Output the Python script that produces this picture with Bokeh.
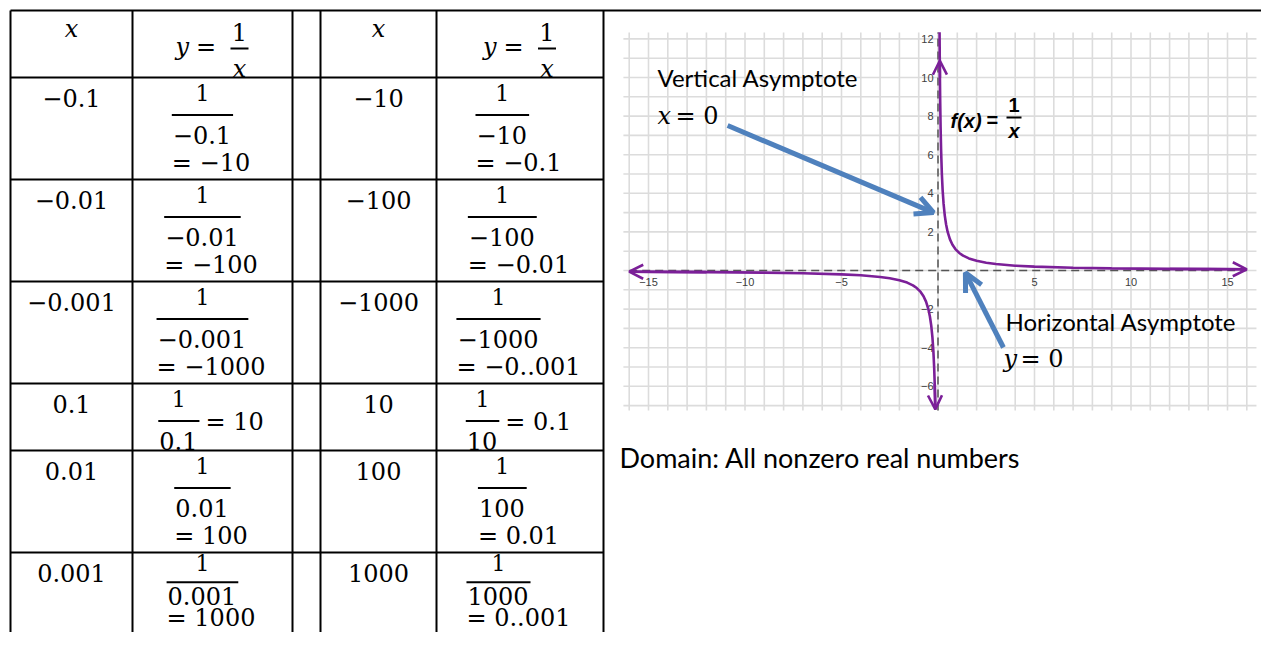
from bokeh.plotting import figure
from bokeh.models import Range1d, Arrow, OpenHead
from bokeh.core.properties import value
from bokeh.embed import file_html
from bokeh.resources import INLINE

# ---------------- data ----------------
table_left_x = ["−0.1", "−0.01", "−0.001", "0.1", "0.01", "0.001"]
table_left_y = ["−10", "−100", "−1000", "10", "100", "1000"]
table_right_x = ["−10", "−100", "−1000", "10", "100", "1000"]
table_right_y = ["−0.1", "−0.01", "−0..001", "0.1", "0.01", "0..001"]
inline_rows = [False, False, False, True, False, False]

curve_neg_x = [-16, -12, -9, -7, -5, -4, -3, -2.5, -2, -1.6, -1.3, -1.1, -0.9, -0.75,
               -0.62, -0.5, -0.42, -0.35, -0.29, -0.24, -0.2, -0.17, -0.139]
curve_neg_y = [-0.0625, -0.0833, -0.111, -0.143, -0.2, -0.25, -0.333, -0.4, -0.5, -0.625,
               -0.769, -0.909, -1.111, -1.333, -1.613, -2.0, -2.381, -2.857, -3.448,
               -4.167, -5.0, -5.882, -7.194]
curve_pos_x = [0.081, 0.09, 0.1, 0.115, 0.135, 0.16, 0.2, 0.24, 0.29, 0.35, 0.42, 0.5,
               0.62, 0.75, 0.9, 1.1, 1.3, 1.6, 2, 2.5, 3, 4, 5, 7, 9, 12, 16]
curve_pos_y = [12.35, 11.11, 10.0, 8.696, 7.407, 6.25, 5.0, 4.167, 3.448, 2.857, 2.381,
               2.0, 1.613, 1.333, 1.111, 0.909, 0.769, 0.625, 0.5, 0.4, 0.333, 0.25, 0.2,
               0.143, 0.111, 0.0833, 0.0625]

x_tick_values = [-15, -10, -5, 5, 10, 15]
x_tick_labels = ["−15", "−10", "−5", "5", "10", "15"]
y_tick_values = [12, 10, 8, 6, 4, 2, -2, -4, -6]
y_tick_labels = ["12", "10", "8", "6", "4", "2", "−2", "−4", "−6"]

grid_x = list(range(-16, 17))
grid_y = list(range(-7, 13))

# annotation arrows (graph units): vertical asymptote pointer, horizontal asymptote pointer
pointer_x0 = [-10.9, 3.39]
pointer_y0 = [7.51, -3.99]
pointer_x1 = [-0.23, 1.42]
pointer_y1 = [3.0, -0.12]

# ---------------- layout (pixels) ----------------
W, H = 1261, 632
OX, OY = 0, 0
col_edges = [10, 132, 292, 320, 436, 603]
row_edges = [10, 77, 179, 281, 383, 450, 552]
row_fit = [1, 1, 1, 1, 1, 0.79]   # last row squeezed so its text stays inside the canvas
TABLE_BOTTOM = 660
TOP_RULE_END = 1290

G_X0, G_Y0, G_UNIT = 937.5, 270.0, 19.3  # graph origin & unit in px

PURPLE = "#7b1f98"
BLUE = "#4f81bd"
GRIDC = "#dcdcdc"

SERIF = "DejaVu Serif"
FS = 24
NUM_FS = 22
MID = 0.37  # baseline -> middle offset (em)

p = figure(width=W, height=H, x_range=Range1d(OX, OX + W), y_range=Range1d(OY + H, OY),
           output_backend="svg", toolbar_location=None, min_border=0,
           x_axis_type=None, y_axis_type=None, outline_line_color=None,
           background_fill_color="white", border_fill_color="white")
p.extra_x_ranges = {"gx": Range1d((OX - G_X0) / G_UNIT, (OX + W - G_X0) / G_UNIT)}
p.extra_y_ranges = {"gy": Range1d((G_Y0 - (OY + H)) / G_UNIT, (G_Y0 - OY) / G_UNIT)}
G = dict(x_range_name="gx", y_range_name="gy")


def add_text(xs, bs, texts, size, align="left", style="normal", font=SERIF, color="black"):
    """Place texts by their baseline (pixel coordinates)."""
    ys = [b - MID * size for b in bs]
    p.text(x=xs, y=ys, text=texts, text_font=value(font), text_font_size=value(f"{size}px"),
           text_align=align, text_baseline="middle", text_font_style=style,
           text_color=color)


ADV = {"−": 0.838, ".": 0.318, " ": 0.318, "=": 0.838}


def tw(s, size=FS):
    return sum(ADV.get(c, 0.636) for c in s) * size


# ---------------- graph ----------------
p.segment(x0=grid_x, y0=[-7.25] * len(grid_x), x1=grid_x, y1=[12.33] * len(grid_x),
          line_color=GRIDC, line_width=1.6, **G)
p.segment(x0=[-16.3] * len(grid_y), y0=grid_y, x1=[16.5] * len(grid_y), y1=grid_y,
          line_color=GRIDC, line_width=1.6, **G)
# dashed axes
p.segment(x0=[-16, 0], y0=[0, -7.25], x1=[16, 0], y1=[0, 12.33],
          line_color="#555555", line_width=1.5, line_dash="8 5", **G)
# tick labels
p.text(x=x_tick_values, y=[-0.62] * len(x_tick_values), text=x_tick_labels,
       text_font=value("Liberation Sans"), text_font_size=value("11px"), text_align="center",
       text_baseline="middle", text_color="#404040", **G)
p.text(x=[-0.23] * len(y_tick_values), y=y_tick_values, text=y_tick_labels,
       text_font=value("Liberation Sans"), text_font_size=value("11px"), text_align="right",
       text_baseline="middle", text_color="#404040", **G)
# curve
p.line(curve_neg_x, curve_neg_y, line_color=PURPLE, line_width=2.6, **G)
p.line(curve_pos_x, curve_pos_y, line_color=PURPLE, line_width=2.6, **G)
for (xa, ya, xb, yb) in [
    (curve_neg_x[1], curve_neg_y[1], curve_neg_x[0], curve_neg_y[0]),
    (curve_neg_x[-2], curve_neg_y[-2], curve_neg_x[-1], curve_neg_y[-1]),
    (curve_pos_x[-2], curve_pos_y[-2], curve_pos_x[-1], curve_pos_y[-1]),
    (curve_pos_x[2], curve_pos_y[2], 0.092, 10.87),
]:
    p.add_layout(Arrow(end=OpenHead(size=14, line_color=PURPLE, line_width=2.6),
                       x_start=xa, y_start=ya, x_end=xb, y_end=yb,
                       line_color=PURPLE, line_width=2.6, **G))
# asymptote pointers
for i in range(len(pointer_x0)):
    p.add_layout(Arrow(end=OpenHead(size=18, line_color=BLUE, line_width=5),
                       x_start=pointer_x0[i], y_start=pointer_y0[i],
                       x_end=pointer_x1[i], y_end=pointer_y1[i],
                       line_color=BLUE, line_width=5, **G))

# labels
add_text([657], [86], ["Vertical Asymptote"], 24, font="Lato")
add_text([657], [124], ["x"], FS, style="italic")
add_text([675], [124], ["= 0"], FS)
add_text([1005], [330], ["Horizontal Asymptote"], 24, font="Lato")
add_text([1003], [367], ["y"], FS, style="italic")
add_text([1020], [367], ["= 0"], FS)
add_text([619], [467], ["Domain: All nonzero real numbers"], 27, font="Lato")
# f(x) = 1/x
add_text([950], [128], ["f(x)"], 20, style="bold italic", font="Liberation Sans")
add_text([986], [127], ["="], 20, style="bold", font="Liberation Sans")
add_text([1013.5], [112], ["1"], 20, align="center", style="bold", font="Liberation Sans")
add_text([1013.5], [138], ["x"], 20, align="center", style="bold italic", font="Liberation Sans")
p.segment(x0=[1006], y0=[117], x1=[1021], y1=[117], line_color="black", line_width=2)

# ---------------- table ----------------
NUM_B, BAR_Y, DEN_B, EQ_B, INLINE_EQ_B, XVAL_B = 24, 37.5, 66, 94, 47, 29.5
bars_x0, bars_x1, bars_y = [], [], []
for (xcol, ycol, xs, ys) in [(0, 1, table_left_x, table_left_y),
                             (3, 4, table_right_x, table_right_y)]:
    xc = (col_edges[xcol] + col_edges[xcol + 1]) / 2
    yc = (col_edges[ycol] + col_edges[ycol + 1]) / 2
    top = row_edges[0]
    # header
    add_text([xc], [top + 27], ["x"], FS, align="center", style="italic")
    add_text([yc - 37], [top + 45], ["y"], FS, style="italic")
    add_text([yc - 6.5], [top + 45], ["="], FS, align="center")
    add_text([yc + 27], [top + 30], ["1"], FS, align="center")
    add_text([yc + 27], [top + 67], ["x"], FS, align="center", style="italic")
    bars_x0.append(yc + 18); bars_x1.append(yc + 36); bars_y.append(top + 38)
    cc = yc - 1.5
    for i in range(len(xs)):
        top = row_edges[i + 1]
        f = row_fit[i]
        add_text([xc], [top + XVAL_B], [xs[i]], FS, align="center")
        den = xs[i]
        eq = "= " + ys[i]
        bw = tw(den) + 3
        ew = tw(eq)
        if inline_rows[i]:
            L = cc - (bw + 6 + ew) / 2
            eq_x, eq_y = L + bw + 6, top + INLINE_EQ_B * f
        else:
            L = cc - max(bw, ew) / 2
            eq_x, eq_y = L, top + EQ_B * f
        add_text([L + bw / 2], [top + NUM_B * f], ["1"], NUM_FS, align="center")
        add_text([L + 1], [top + DEN_B * f], [den], FS)
        add_text([eq_x], [eq_y], [eq], FS)
        bars_x0.append(L); bars_x1.append(L + bw); bars_y.append(top + BAR_Y * f)

p.segment(x0=bars_x0, y0=bars_y, x1=bars_x1, y1=bars_y, line_color="black", line_width=2)

# borders
p.segment(x0=col_edges, y0=[row_edges[0]] * len(col_edges), x1=col_edges,
          y1=[TABLE_BOTTOM] * len(col_edges), line_color="black", line_width=2)
p.segment(x0=[col_edges[0]] * (len(row_edges) - 1), y0=row_edges[1:],
          x1=[col_edges[-1]] * (len(row_edges) - 1), y1=row_edges[1:],
          line_color="black", line_width=2)
p.segment(x0=[col_edges[0]], y0=[row_edges[0]], x1=[TOP_RULE_END], y1=[row_edges[0]],
          line_color="black", line_width=2)

open("out.html", "w").write(file_html(p, INLINE))
